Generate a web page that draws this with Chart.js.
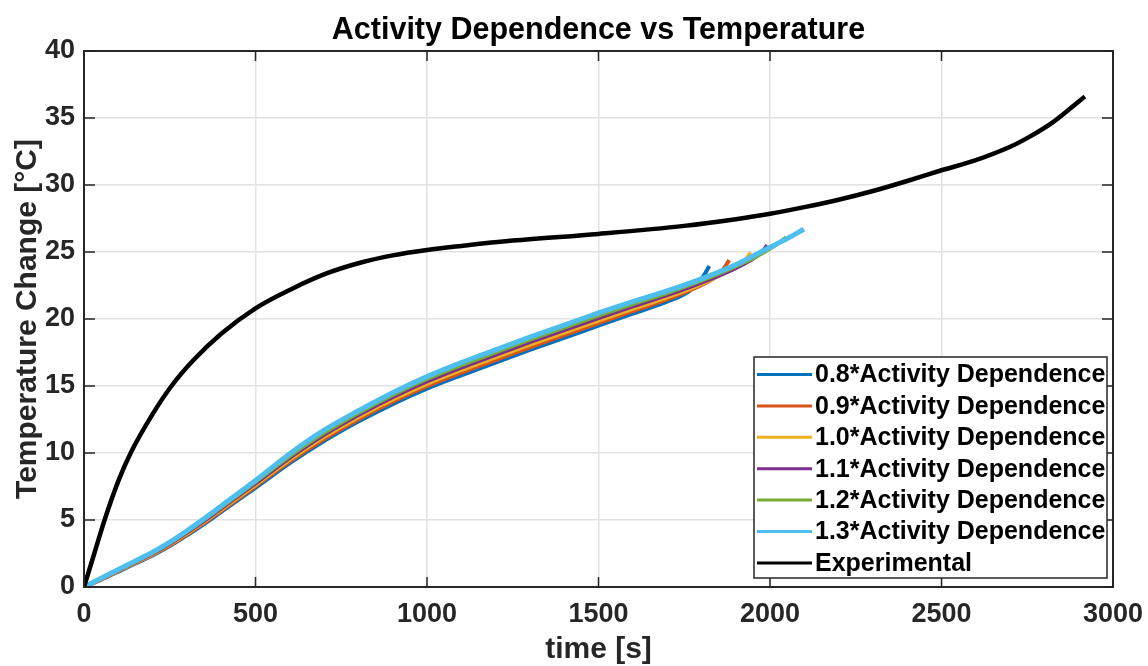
<!DOCTYPE html>
<html><head><meta charset="utf-8">
<script src="https://cdn.jsdelivr.net/npm/chart.js@4/dist/chart.umd.min.js"></script>
<style>html,body{margin:0;padding:0;background:#fff;}#wrap{width:1148px;height:666px;}</style>
</head><body><div id="wrap"><canvas id="c" width="1148" height="666"></canvas></div>
<script>
const chartTitle = 'Activity Dependence vs Temperature';
const xTitle = 'time [s]';
const yTitle = 'Temperature Change [°C]';
const seriesLabels = ['0.8*Activity Dependence','0.9*Activity Dependence','1.0*Activity Dependence','1.1*Activity Dependence','1.2*Activity Dependence','1.3*Activity Dependence','Experimental'];
const seriesColors = ['#0072BD','#D95319','#EDB120','#7E2F8E','#77AC30','#4DBEEE','#000000'];

const bodyTime = [0,50,100,150,200,250,300,350,400,450,500,600,700,800,900,1000,1100,1200,1300,1400,1500,1600,1700];

const t08 = bodyTime.concat([1760,1790,1806,1823]);
const y08 = [0,0.55,1.15,1.75,2.35,3.05,3.85,4.7,5.6,6.5,7.4,9.25,10.9,12.35,13.65,14.8,15.8,16.75,17.7,18.6,19.5,20.4,21.3, 22.0,22.65,23.2,23.95];

const t09 = bodyTime.concat([1780,1840,1862,1881]);
const y09 = [0,0.57,1.18,1.79,2.4,3.11,3.92,4.78,5.69,6.6,7.51,9.38,11.05,12.51,13.82,14.98,15.99,16.94,17.89,18.79,19.69,20.58,21.46, 22.3,23.1,23.65,24.4];

const t10 = bodyTime.concat([1800,1880,1920,1944]);
const y10 = [0,0.59,1.21,1.83,2.45,3.17,3.99,4.86,5.78,6.7,7.62,9.51,11.2,12.67,13.99,15.16,16.18,17.13,18.08,18.98,19.88,20.76,21.62, 22.6,23.6,24.15,24.95];

const t11 = bodyTime.concat([1800,1900,1950,1975,1992]);
const y11 = [0,0.61,1.24,1.87,2.5,3.23,4.06,4.94,5.87,6.8,7.73,9.64,11.35,12.83,14.16,15.34,16.37,17.32,18.27,19.17,20.07,20.94,21.78, 22.72,23.8,24.5,24.95,25.5];

const t12 = bodyTime.concat([1800,1900,1980,2015,2047]);
const y12 = [0,0.63,1.27,1.91,2.55,3.29,4.13,5.02,5.96,6.9,7.84,9.77,11.5,12.99,14.33,15.52,16.56,17.51,18.46,19.36,20.26,21.12,21.94, 22.86,23.92,24.95,25.5,26.1];

const t13 = bodyTime.concat([1800,1900,2000,2050,2099]);
const y13 = [0,0.65,1.3,1.95,2.6,3.35,4.2,5.1,6.05,7.0,7.95,9.95,11.7,13.15,14.5,15.7,16.75,17.7,18.65,19.55,20.45,21.3,22.1, 23.0,24.05,25.35,26.0,26.7];

const tExp = [0,30,60,100,136,200,255,318,400,500,610,707,805,900,1000,1100,1250,1500,1750,1900,2000,2100,2200,2300,2400,2500,2600,2700,2760,2820,2870,2918];
const yExp = [0,2.5,5.0,7.9,10.0,12.9,15.0,16.9,18.9,20.8,22.3,23.4,24.2,24.75,25.15,25.45,25.85,26.35,26.95,27.45,27.85,28.35,28.9,29.55,30.3,31.1,31.85,32.85,33.65,34.6,35.6,36.6];

const xTicks = [0,500,1000,1500,2000,2500,3000];
const yTicks = [0,5,10,15,20,25,30,35,40];

const FONT = '"Liberation Sans", Arial, Helvetica, sans-serif';
const AX = '#262626';

const seriesT = [t08,t09,t10,t11,t12,t13,tExp];
const seriesY = [y08,y09,y10,y11,y12,y13,yExp];
const widths = [4,4,4,4,4,5,4.5];
const orders = [6,5,4,3,2,1,0];

const datasets = seriesLabels.map((lab,i)=>({
  label: lab,
  data: seriesT[i].map((t,j)=>({x:t,y:seriesY[i][j]})),
  borderColor: seriesColors[i],
  backgroundColor: seriesColors[i],
  borderWidth: widths[i],
  pointRadius: 0,
  fill: false,
  cubicInterpolationMode: 'monotone',
  order: orders[i]
}));

const decor = {
  id: 'decor',
  afterDatasetsDraw(chart){
    const ctx = chart.ctx, a = chart.chartArea;
    const xs = chart.scales.x, ys = chart.scales.y;
    ctx.save();
    ctx.strokeStyle = AX; ctx.lineWidth = 2;
    ctx.strokeRect(a.left, a.top, a.right-a.left, a.bottom-a.top);
    ctx.lineWidth = 1.5;
    ctx.beginPath();
    xTicks.forEach(v=>{const px = xs.getPixelForValue(v);
      ctx.moveTo(px,a.bottom); ctx.lineTo(px,a.bottom-10);
      ctx.moveTo(px,a.top); ctx.lineTo(px,a.top+10);});
    yTicks.forEach(v=>{const py = ys.getPixelForValue(v);
      ctx.moveTo(a.left,py); ctx.lineTo(a.left+11,py);
      ctx.moveTo(a.right,py); ctx.lineTo(a.right-11,py);});
    ctx.stroke();
    ctx.fillStyle = '#000';
    ctx.font = 'bold 30.5px ' + FONT;
    ctx.textAlign = 'center'; ctx.textBaseline = 'middle';
    ctx.fillText(chartTitle, (a.left+a.right)/2, 31);
    const bw = 353, bh = 221;
    const bx = a.right - 6 - bw, by = a.bottom - 9 - bh;
    ctx.fillStyle = '#fff';
    ctx.fillRect(bx, by, bw, bh);
    ctx.strokeStyle = AX; ctx.lineWidth = 1.5;
    ctx.strokeRect(bx, by, bw, bh);
    ctx.font = 'bold 25px ' + FONT;
    ctx.textAlign = 'left'; ctx.textBaseline = 'middle';
    seriesLabels.forEach((lab,i)=>{
      const cy = by + 17.5 + i*31.4;
      ctx.strokeStyle = seriesColors[i]; ctx.lineWidth = 3;
      ctx.beginPath(); ctx.moveTo(bx+3, cy); ctx.lineTo(bx+58, cy); ctx.stroke();
      ctx.fillStyle = '#000';
      ctx.fillText(lab, bx+61, cy+1);
    });
    ctx.restore();
  }
};

new Chart(document.getElementById('c'), {
  type: 'line',
  data: { datasets },
  options: {
    responsive: false, animation: false, devicePixelRatio: 1,
    layout: { padding: { top: 51, right: 35, left: 0, bottom: 0 } },
    plugins: { legend: { display: false }, tooltip: { enabled: false }, title: { display: false } },
    scales: {
      x: {
        type: 'linear', min: 0, max: 3000,
        afterBuildTicks: s => { s.ticks = xTicks.map(v=>({value:v})); },
        ticks: { color: AX, font: { family: FONT, size: 27, weight: 'bold' }, padding: 11, maxRotation: 0, autoSkip: false, callback: v => String(v) },
        grid: { color: '#e2e2e2', lineWidth: 1.5, drawTicks: false },
        border: { display: false },
        title: { display: true, text: xTitle, color: AX, font: { family: FONT, size: 30, weight: 'bold', lineHeight: 1.0 }, padding: { top: 0, bottom: 1 } },
        afterFit: s => { s.height = 79; s.paddingLeft = 0; s.paddingRight = 0; }
      },
      y: {
        type: 'linear', min: 0, max: 40,
        afterBuildTicks: s => { s.ticks = yTicks.map(v=>({value:v})); },
        ticks: { color: AX, font: { family: FONT, size: 27, weight: 'bold' }, padding: 9, autoSkip: false, callback: v => String(v) },
        grid: { color: '#e2e2e2', lineWidth: 1.5, drawTicks: false },
        border: { display: false },
        title: { display: true, text: yTitle, color: AX, font: { family: FONT, size: 30, weight: 'bold', lineHeight: 1.0 }, padding: { top: 13, bottom: 0 } },
        afterFit: s => { s.width = 84; s.paddingTop = 0; s.paddingBottom = 0; }
      }
    }
  },
  plugins: [decor]
});
</script></body></html>
